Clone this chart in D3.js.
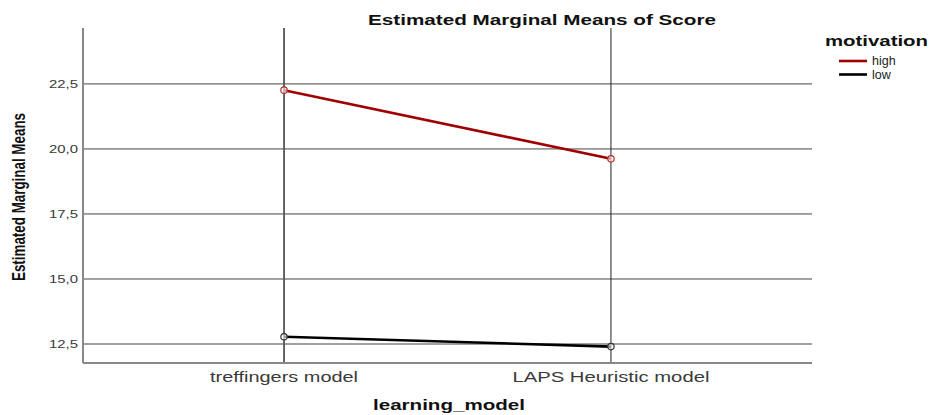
<!DOCTYPE html>
<html><head><meta charset="utf-8">
<script src="https://cdn.jsdelivr.net/npm/d3@7/dist/d3.min.js"></script>
<style>body{margin:0;background:#fff}svg{display:block}</style>
</head><body>
<svg id="c" width="930" height="415"></svg>
<script>
const categories = ["treffingers model", "LAPS Heuristic model"];
const seriesNames = ["high", "low"];
const highValues = [22.26, 19.62];
const lowValues = [12.78, 12.40];
const yTicks = [12.5, 15.0, 17.5, 20.0, 22.5];
const colors = {high: "#a00000", low: "#000000"};

const svg = d3.select("#c");
const FONT = "Liberation Sans, Arial, sans-serif";
const L = 83, R = 812, T = 28, B = 363;
const x = d3.scalePoint().domain(categories).range([L, R]).padding(0.615);
const y = d3.scaleLinear().domain([11.77, 24.65]).range([B, T]);
const fmt = d => d3.format(".1f")(d).replace(".", ",");

// horizontal grid
svg.append("g").selectAll("line").data(yTicks).join("line")
  .attr("x1", L).attr("x2", R).attr("y1", d => y(d)).attr("y2", d => y(d))
  .attr("stroke", "#444").attr("stroke-width", 1);
// vertical lines at categories
svg.append("g").selectAll("line").data(categories).join("line")
  .attr("x1", d => x(d)).attr("x2", d => x(d)).attr("y1", T).attr("y2", B)
  .attr("stroke", (d,i) => i === 0 ? "#555" : "#222").attr("stroke-width", (d,i) => i === 0 ? 1.8 : 1);
// axes lines
svg.append("line").attr("x1", L).attr("x2", L).attr("y1", T).attr("y2", B).attr("stroke", "#888").attr("stroke-width", 2);
svg.append("line").attr("x1", L).attr("x2", R).attr("y1", B).attr("y2", B).attr("stroke", "#888").attr("stroke-width", 2);

// y tick labels
svg.append("g").selectAll("text").data(yTicks).join("text")
  .attr("x", L - 5).attr("y", d => y(d)).attr("dy", "0.35em").attr("text-anchor", "end")
  .attr("font-family", FONT).attr("font-size", 11.5).attr("fill", "#3a3a3a")
  .attr("textLength", 29).attr("lengthAdjust", "spacingAndGlyphs")
  .text(fmt);
// x tick labels
const tickW = [148, 197];
svg.append("g").selectAll("text").data(categories).join("text")
  .attr("x", d => x(d)).attr("y", B + 19).attr("text-anchor", "middle")
  .attr("font-family", FONT).attr("font-size", 15).attr("fill", "#3a3a3a")
  .attr("textLength", (d,i) => tickW[i]).attr("lengthAdjust", "spacingAndGlyphs")
  .text(d => d);

// series
const series = [{name: "high", values: highValues}, {name: "low", values: lowValues}];
const line = d3.line().x((d,i) => x(categories[i])).y(d => y(d));
series.forEach(s => {
  svg.append("path").attr("d", line(s.values)).attr("fill", "none")
    .attr("stroke", colors[s.name]).attr("stroke-width", 2.6);
  svg.append("g").selectAll("circle").data(s.values).join("circle")
    .attr("cx", (d,i) => x(categories[i])).attr("cy", d => y(d)).attr("r", 3.2)
    .attr("fill", "#fff").attr("fill-opacity", 0.6).attr("stroke", s.name === "high" ? "#b03030" : "#333").attr("stroke-width", 1.2);
});

// title
svg.append("text").attr("x", 542).attr("y", 25).attr("text-anchor", "middle")
  .attr("font-family", FONT).attr("font-weight", "bold").attr("font-size", 14.5).attr("fill", "#111")
  .attr("textLength", 348).attr("lengthAdjust", "spacingAndGlyphs")
  .text("Estimated Marginal Means of Score");
// axis titles
svg.append("text").attr("x", 449).attr("y", 410).attr("text-anchor", "middle")
  .attr("font-family", FONT).attr("font-weight", "bold").attr("font-size", 15).attr("fill", "#111")
  .attr("textLength", 152).attr("lengthAdjust", "spacingAndGlyphs")
  .text("learning_model");
svg.append("text").attr("transform", "translate(25,197) rotate(-90)").attr("text-anchor", "middle")
  .attr("font-family", "Liberation Sans Narrow, Liberation Sans, Arial, sans-serif").attr("font-weight", "bold").attr("font-size", 18).attr("fill", "#111")
  .attr("textLength", 168).attr("lengthAdjust", "spacingAndGlyphs")
  .text("Estimated Marginal Means");

// legend
svg.append("text").attr("x", 825).attr("y", 46)
  .attr("font-family", FONT).attr("font-weight", "bold").attr("font-size", 15).attr("fill", "#111")
  .attr("textLength", 103).attr("lengthAdjust", "spacingAndGlyphs")
  .text("motivation");
const lg = svg.append("g").selectAll("g").data(seriesNames).join("g")
  .attr("transform", (d,i) => `translate(839,${61 + i*13.5})`);
lg.append("line").attr("x1", 0).attr("x2", 28).attr("stroke", d => colors[d]).attr("stroke-width", 2.6);
lg.append("text").attr("x", 33).attr("dy", "0.35em")
  .attr("font-family", FONT).attr("font-size", 12.5).attr("fill", "#222").text(d => d);
</script>
</body></html>
